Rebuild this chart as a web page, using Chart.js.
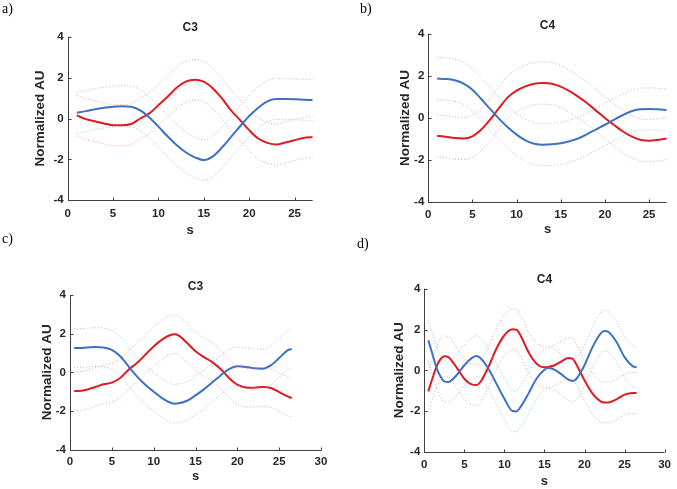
<!DOCTYPE html>
<html><head><meta charset="utf-8">
<script src="https://cdn.jsdelivr.net/npm/chart.js@4"></script>
<style>
body{margin:0;background:#fff;}
#wrap{position:relative;width:677px;height:489px;overflow:hidden;background:#fff}
#wrap canvas{position:absolute}
.lbl{position:absolute;font-family:"Liberation Serif","Times New Roman",serif;font-size:14px;color:#000;line-height:14px}
</style></head><body>
<div id="wrap">
<canvas id="ca" width="330" height="240" style="left:0;top:0"></canvas>
<canvas id="cb" width="337" height="240" style="left:340px;top:0"></canvas>
<canvas id="cc" width="340" height="249" style="left:0;top:240px"></canvas>
<canvas id="cd" width="337" height="249" style="left:340px;top:240px"></canvas>
<div class="lbl" style="left:2px;top:2px">a)</div>
<div class="lbl" style="left:360px;top:2px">b)</div>
<div class="lbl" style="left:2px;top:232px">c)</div>
<div class="lbl" style="left:357px;top:237px">d)</div>
</div>
<script>
// ---------- DATA ----------
const Y_TICKS = [-4, -2, 0, 2, 4];
const X_TICKS_27 = [0, 5, 10, 15, 20, 25];
const X_TICKS_30 = [0, 5, 10, 15, 20, 25, 30];
const TITLES = ['C3', 'C4', 'C3', 'C4'];
const X_LABEL = 's';
const Y_LABEL = 'Normalized AU';

// panel a
const A_X = [1,2,3,4,5,6,7,8,9,10,11,12,13,14,15,16,17,18,19,20,21,22,23,24,25,26,27];
const A_BLUE = [0.28,0.36,0.45,0.53,0.58,0.60,0.58,0.40,0.05,-0.40,-0.87,-1.30,-1.65,-1.90,-2.03,-1.85,-1.42,-0.90,-0.38,0.12,0.53,0.84,0.95,0.95,0.94,0.92,0.90];
const A_BLUE_UP = [1.28,1.36,1.45,1.53,1.58,1.60,1.58,1.40,1.05,0.60,0.13,-0.30,-0.65,-0.90,-1.03,-0.85,-0.42,0.10,0.62,1.12,1.53,1.84,1.95,1.95,1.94,1.92,1.90];
const A_BLUE_LO = [-0.72,-0.64,-0.55,-0.47,-0.42,-0.40,-0.42,-0.60,-0.95,-1.40,-1.87,-2.30,-2.65,-2.90,-3.03,-2.85,-2.42,-1.90,-1.38,-0.88,-0.47,-0.16,-0.05,-0.05,-0.06,-0.08,-0.10];
const A_RED = [0.15,-0.03,-0.13,-0.24,-0.33,-0.33,-0.27,0.00,0.25,0.65,1.06,1.50,1.80,1.90,1.80,1.47,0.98,0.40,-0.08,-0.57,-0.98,-1.19,-1.27,-1.17,-1.06,-0.95,-0.90];
const A_RED_UP = [1.15,0.97,0.87,0.76,0.67,0.67,0.73,1.00,1.25,1.65,2.06,2.50,2.80,2.90,2.80,2.47,1.98,1.40,0.92,0.43,0.02,-0.19,-0.27,-0.17,-0.06,0.05,0.10];
const A_RED_LO = [-0.85,-1.03,-1.13,-1.24,-1.33,-1.33,-1.27,-1.00,-0.75,-0.35,0.06,0.50,0.80,0.90,0.80,0.47,-0.02,-0.60,-1.08,-1.57,-1.98,-2.19,-2.27,-2.17,-2.06,-1.95,-1.90];

// panel b
const B_X = [1,2,3,4,5,6,7,8,9,10,11,12,13,14,15,16,17,18,19,20,21,22,23,24,25,26,27];
const B_BLUE = [1.87,1.85,1.79,1.63,1.34,0.90,0.43,-0.03,-0.44,-0.79,-1.06,-1.22,-1.27,-1.25,-1.20,-1.10,-0.97,-0.76,-0.54,-0.32,-0.09,0.13,0.32,0.41,0.43,0.41,0.38];
const B_BLUE_UP = [2.87,2.85,2.79,2.63,2.34,1.90,1.43,0.97,0.56,0.21,-0.06,-0.22,-0.27,-0.25,-0.20,-0.10,0.03,0.24,0.46,0.68,0.91,1.13,1.32,1.41,1.43,1.41,1.38];
const B_BLUE_LO = [0.87,0.85,0.79,0.63,0.34,-0.10,-0.57,-1.03,-1.44,-1.79,-2.06,-2.22,-2.27,-2.25,-2.20,-2.10,-1.97,-1.76,-1.54,-1.32,-1.09,-0.87,-0.68,-0.59,-0.57,-0.59,-0.62];
const B_RED = [-0.84,-0.89,-0.95,-0.97,-0.87,-0.55,-0.08,0.47,0.98,1.30,1.50,1.63,1.66,1.63,1.49,1.27,1.00,0.70,0.35,0.00,-0.32,-0.63,-0.87,-1.03,-1.08,-1.04,-0.97];
const B_RED_UP = [0.16,0.11,0.05,0.03,0.13,0.45,0.92,1.47,1.98,2.30,2.50,2.63,2.66,2.63,2.49,2.27,2.00,1.70,1.35,1.00,0.68,0.37,0.13,-0.03,-0.08,-0.04,0.03];
const B_RED_LO = [-1.84,-1.89,-1.95,-1.97,-1.87,-1.55,-1.08,-0.53,-0.02,0.30,0.50,0.63,0.66,0.63,0.49,0.27,0.00,-0.30,-0.65,-1.00,-1.32,-1.63,-1.87,-2.03,-2.08,-2.04,-1.97];

// panel c
const C_X = [0.5,1,2,3,4,5,6,7,8,9,10,11,12,12.5,13,14,15,16,17,18,19,20,21,22,23,24,25,26,26.5];
const C_BLUE = [1.26,1.26,1.28,1.31,1.29,1.16,0.83,0.31,-0.21,-0.64,-1.00,-1.33,-1.57,-1.62,-1.60,-1.47,-1.19,-0.88,-0.52,-0.16,0.17,0.31,0.28,0.21,0.19,0.36,0.74,1.14,1.21];
const C_BLUE_UP = [2.26,2.26,2.28,2.31,2.29,2.16,1.83,1.31,0.79,0.36,0.00,-0.33,-0.57,-0.62,-0.60,-0.47,-0.19,0.12,0.48,0.84,1.17,1.31,1.28,1.21,1.19,1.36,1.74,2.14,2.21];
const C_BLUE_LO = [0.26,0.26,0.28,0.31,0.29,0.16,-0.17,-0.69,-1.21,-1.64,-2.00,-2.33,-2.57,-2.62,-2.60,-2.47,-2.19,-1.88,-1.52,-1.16,-0.83,-0.69,-0.72,-0.79,-0.81,-0.64,-0.26,0.14,0.21];
const C_RED = [-0.97,-0.97,-0.90,-0.76,-0.62,-0.53,-0.29,0.14,0.48,0.91,1.34,1.69,1.93,1.97,1.90,1.52,1.09,0.79,0.53,0.17,-0.29,-0.64,-0.78,-0.79,-0.76,-0.81,-1.02,-1.24,-1.33];
const C_RED_UP = [0.03,0.03,0.10,0.24,0.38,0.47,0.71,1.14,1.48,1.91,2.34,2.69,2.93,2.97,2.90,2.52,2.09,1.79,1.53,1.17,0.71,0.36,0.22,0.21,0.24,0.19,-0.02,-0.24,-0.33];
const C_RED_LO = [-1.97,-1.97,-1.90,-1.76,-1.62,-1.53,-1.29,-0.86,-0.52,-0.09,0.34,0.69,0.93,0.97,0.90,0.52,0.09,-0.21,-0.47,-0.83,-1.29,-1.64,-1.78,-1.79,-1.76,-1.81,-2.02,-2.24,-2.33];

// panel d
const D_X = [0.5,1,1.5,2,2.5,3,4,5,6,6.5,7,8,9,10,11,11.5,12,13,14,15,15.5,16,17,18,18.5,19,20,21,22,22.5,23,24,25,26,26.5];
const D_BLUE = [1.47,0.82,0.16,-0.29,-0.54,-0.57,-0.25,0.25,0.62,0.70,0.60,0.08,-0.65,-1.39,-1.99,-2.01,-1.80,-1.14,-0.41,0.03,0.11,0.08,-0.16,-0.46,-0.52,-0.41,0.25,1.14,1.80,1.93,1.88,1.39,0.65,0.21,0.15];
const D_BLUE_UP = [2.47,1.82,1.16,0.71,0.46,0.43,0.75,1.25,1.62,1.70,1.60,1.08,0.35,-0.39,-0.99,-1.01,-0.80,-0.14,0.59,1.03,1.11,1.08,0.84,0.54,0.48,0.59,1.25,2.14,2.80,2.93,2.88,2.39,1.65,1.21,1.15];
const D_BLUE_LO = [0.47,-0.18,-0.84,-1.29,-1.54,-1.57,-1.25,-0.75,-0.38,-0.30,-0.40,-0.92,-1.65,-2.39,-2.99,-3.01,-2.80,-2.14,-1.41,-0.97,-0.89,-0.92,-1.16,-1.46,-1.52,-1.41,-0.75,0.14,0.80,0.93,0.88,0.39,-0.35,-0.79,-0.85];
const D_RED = [-1.03,-0.41,0.16,0.54,0.69,0.65,0.16,-0.41,-0.70,-0.72,-0.57,0.16,1.06,1.72,2.01,1.99,1.72,0.90,0.33,0.15,0.17,0.21,0.41,0.60,0.57,0.28,-0.49,-1.14,-1.52,-1.57,-1.57,-1.42,-1.19,-1.11,-1.11];
const D_RED_UP = [-0.03,0.59,1.16,1.54,1.69,1.65,1.16,0.59,0.30,0.28,0.43,1.16,2.06,2.72,3.01,2.99,2.72,1.90,1.33,1.15,1.17,1.21,1.41,1.60,1.57,1.28,0.51,-0.14,-0.52,-0.57,-0.57,-0.42,-0.19,-0.11,-0.11];
const D_RED_LO = [-2.03,-1.41,-0.84,-0.46,-0.31,-0.35,-0.84,-1.41,-1.70,-1.72,-1.57,-0.84,0.06,0.72,1.01,0.99,0.72,-0.10,-0.67,-0.85,-0.83,-0.79,-0.59,-0.40,-0.43,-0.72,-1.49,-2.14,-2.52,-2.57,-2.57,-2.42,-2.19,-2.11,-2.11];

// ---------- STYLE / LAYOUT ----------
const BLUE = '#3d72c2', RED = '#e01b1f';
const BLUE_LIGHT = 'rgba(120,175,230,0.75)', RED_LIGHT = 'rgba(235,120,120,0.7)';
const TXT = '#262626', AXIS = '#404040';
const FONT = '"Liberation Sans", Arial, Helvetica, sans-serif';

const panels = [
  {id:'ca', w:330, h:240, l:67.7, r:312.7, t:36.7, b:200.3, tc:28, tp:6.4, sp:2.2, yp:31.9, xmax:27, xt:X_TICKS_27,
   x:A_X, blue:A_BLUE, bu:A_BLUE_UP, bl:A_BLUE_LO, red:A_RED, ru:A_RED_UP, rl:A_RED_LO},
  {id:'cb', w:337, h:240, l:88.3, r:326.7, t:33.7, b:202.3, tc:26, tp:5.4, sp:3.2, yp:56.9, xmax:27, xt:X_TICKS_27,
   x:B_X, blue:B_BLUE, bu:B_BLUE_UP, bl:B_BLUE_LO, red:B_RED, ru:B_RED_UP, rl:B_RED_LO},
  {id:'cc', w:340, h:249, l:70, r:321, t:55, b:209.7, tc:46.7, tp:5, sp:5.2, yp:39.6, xmax:30, xt:X_TICKS_30,
   x:C_X, blue:C_BLUE, bu:C_BLUE_UP, bl:C_BLUE_LO, red:C_RED, ru:C_RED_UP, rl:C_RED_LO},
  {id:'cd', w:337, h:249, l:84.3, r:329.3, t:48.7, b:212, tc:39.3, tp:6, sp:0.2, yp:50.9, xmax:30, xt:X_TICKS_30,
   x:D_X, blue:D_BLUE, bu:D_BLUE_UP, bl:D_BLUE_LO, red:D_RED, ru:D_RED_UP, rl:D_RED_LO}
];

const axesPlugin = {
  id: 'matlabAxes',
  afterDraw(chart) {
    const {ctx, chartArea: ca, scales} = chart;
    ctx.save();
    ctx.strokeStyle = AXIS;
    ctx.lineWidth = 1;
    ctx.beginPath();
    const L = Math.round(ca.left) + 0.5, B = Math.round(ca.bottom) + 0.5;
    ctx.moveTo(L, ca.top); ctx.lineTo(L, B); ctx.lineTo(ca.right, B);
    scales.x.ticks.forEach(t => {
      const px = Math.round(scales.x.getPixelForValue(t.value)) + 0.5;
      ctx.moveTo(px, B); ctx.lineTo(px, B - 3);
    });
    scales.y.ticks.forEach(t => {
      const py = Math.round(scales.y.getPixelForValue(t.value)) + 0.5;
      ctx.moveTo(L, py); ctx.lineTo(L + 3, py);
    });
    ctx.stroke();
    ctx.restore();
  }
};

function pts(xs, ys) { return xs.map((x, i) => ({x: x, y: ys[i]})); }
function ds(xs, ys, color, width, dash) {
  return {data: pts(xs, ys), borderColor: color, borderWidth: width, borderDash: dash,
          pointRadius: 0, fill: false, cubicInterpolationMode: 'monotone'};
}

panels.forEach((p, idx) => {
  new Chart(document.getElementById(p.id), {
    type: 'line',
    data: {
      datasets: [
        ds(p.x, p.bu, BLUE_LIGHT, 1, [1, 2]),
        ds(p.x, p.bl, BLUE_LIGHT, 1, [1, 2]),
        ds(p.x, p.ru, RED_LIGHT, 1, [1, 2]),
        ds(p.x, p.rl, RED_LIGHT, 1, [1, 2]),
        ds(p.x, p.blue, BLUE, 2, []),
        ds(p.x, p.red, RED, 2, [])
      ]
    },
    options: {
      responsive: false, animation: false, devicePixelRatio: 1,
      layout: {padding: {left: 0, right: p.w - p.r, top: 0, bottom: 0}},
      plugins: {
        legend: {display: false}, tooltip: {enabled: false},
        title: {display: true, text: TITLES[idx], fullSize: false, color: TXT,
                font: {family: FONT, size: 12, weight: 'bold', lineHeight: 1.2},
                padding: {top: p.tc - 7.2, bottom: p.t - p.tc - 7.2}}
      },
      scales: {
        x: {
          type: 'linear', min: 0, max: p.xmax,
          grid: {display: false, drawTicks: false}, border: {display: false},
          afterBuildTicks: s => { s.ticks = p.xt.map(v => ({value: v})); },
          afterFit: s => { s.height = p.h - p.b; },
          ticks: {color: TXT, padding: p.tp, maxRotation: 0, autoSkip: false,
                  font: {family: FONT, size: 11.5, weight: 'bold'}},
          title: {display: true, text: X_LABEL, color: TXT, padding: {top: 0, bottom: p.sp},
                  font: {family: FONT, size: 13, weight: 'bold', lineHeight: 1.2}}
        },
        y: {
          min: -4, max: 4,
          grid: {display: false, drawTicks: false}, border: {display: false},
          afterBuildTicks: s => { s.ticks = Y_TICKS.map(v => ({value: v})); },
          afterFit: s => { s.width = p.l; },
          ticks: {color: TXT, padding: 4, autoSkip: false,
                  font: {family: FONT, size: 11.5, weight: 'bold'}},
          title: {display: true, text: Y_LABEL, color: TXT, padding: {top: p.yp, bottom: 0},
                  font: {family: FONT, size: 13.5, weight: 'bold', lineHeight: 1.2}}
        }
      }
    },
    plugins: [axesPlugin]
  });
});
</script>
</body></html>
